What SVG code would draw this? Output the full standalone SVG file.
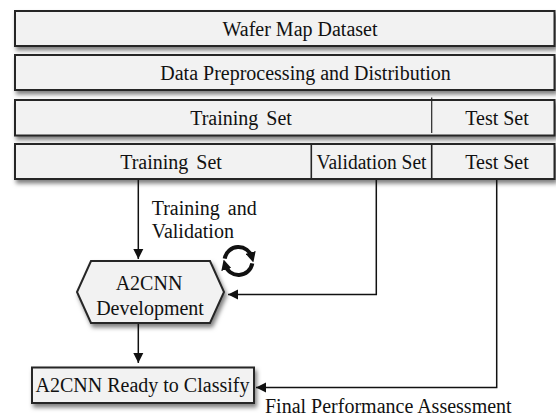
<svg xmlns="http://www.w3.org/2000/svg" width="556" height="419" viewBox="0 0 556 419">
<defs>
<filter id="sh" x="-5%" y="-20%" width="115%" height="160%">
<feDropShadow dx="2" dy="3.5" stdDeviation="2" flood-color="#000" flood-opacity="0.5"/>
</filter>
<marker id="sa" viewBox="0 0 10 10" refX="5" refY="5" markerWidth="2.6" markerHeight="2.6" orient="auto">
<path d="M0,0 L10,5 L0,10 z" fill="#111"/>
</marker>
</defs>
<style>
.box{fill:#f2f2f2;stroke:#262626;stroke-width:2;filter:url(#sh)}
.div{stroke:#262626;stroke-width:1.6}
text{font-family:"Liberation Serif",serif;font-size:20px;fill:#111}
.c{text-anchor:middle}
.ln{fill:none;stroke:#111;stroke-width:1.5}
</style>
<g id="wafer-map-dataset">
<rect class="box" x="15" y="11" width="539.5" height="35"/>
<text class="c" x="300" y="35.5" font-family="Liberation Serif, serif">Wafer Map Dataset</text>
</g>
<g id="preprocessing">
<rect class="box" x="15" y="55" width="539.5" height="35"/>
<text class="c" x="305.5" y="79.5" font-family="Liberation Serif, serif">Data Preprocessing and Distribution</text>
</g>
<g id="split1">
<rect class="box" x="15" y="100" width="539.5" height="35.5"/>
<line class="div" x1="431.7" y1="97.5" x2="431.7" y2="133" style="stroke-width:1.2"/>
<text class="c" x="241" y="124.7" font-family="Liberation Serif, serif" word-spacing="3">Training Set</text>
<text class="c" x="497" y="124.7" font-family="Liberation Serif, serif">Test Set</text>
</g>
<g id="split2">
<rect class="box" x="15" y="144" width="539.5" height="35"/>
<line class="div" x1="311.3" y1="144" x2="311.3" y2="179"/>
<line class="div" x1="431.7" y1="144" x2="431.7" y2="179"/>
<text class="c" x="171" y="168.5" font-family="Liberation Serif, serif" word-spacing="3">Training Set</text>
<text class="c" x="371.5" y="168.5" font-family="Liberation Serif, serif" textLength="110" lengthAdjust="spacingAndGlyphs">Validation Set</text>
<text class="c" x="497" y="168.5" font-family="Liberation Serif, serif">Test Set</text>
</g>
<g id="a2cnn-development">
<polygon class="box" points="91,261 210,261 224,292 210,323 91,323 77,292"/>
<text class="c" x="149" y="289.5" font-family="Liberation Serif, serif">A2CNN</text>
<text class="c" x="150" y="315" font-family="Liberation Serif, serif">Development</text>
</g>
<g id="a2cnn-ready">
<rect class="box" x="32" y="367.5" width="222" height="35.5"/>
<text class="c" x="142.5" y="392" font-family="Liberation Serif, serif">A2CNN Ready to Classify</text>
</g>
<g id="connectors">
<line class="ln" x1="138.3" y1="180" x2="138.3" y2="259"/>
<polyline class="ln" points="376.3,180 376.3,294.5 228,294.5"/>
<polyline class="ln" points="496.7,180 496.7,387.5 256,387.5"/>
<line class="ln" x1="138.3" y1="324" x2="138.3" y2="363"/>
<path d="M133.3,249 L138.3,259 L143.3,249 z" fill="#111"/>
<path d="M238,289.5 L228,294.5 L238,299.5 z" fill="#111"/>
<path d="M266,382.5 L256,387.5 L266,392.5 z" fill="#111"/>
<path d="M133.3,353 L138.3,363 L143.3,353 z" fill="#111"/>
</g>
<g id="labels">
<text x="151.7" y="215" font-family="Liberation Serif, serif" word-spacing="3">Training and</text>
<text x="151.7" y="238" font-family="Liberation Serif, serif">Validation</text>
<text x="265" y="413" font-family="Liberation Serif, serif">Final Performance Assessment</text>
</g>
<g id="cycle-icon" fill="none" stroke="#111" stroke-width="4">
<path d="M224.7,258.6 A14,14 0 0 1 252,257.4" marker-end="url(#sa)"/>
<path d="M252.3,263.4 A14,14 0 0 1 225,264.6" marker-end="url(#sa)"/>
</g>
</svg>
